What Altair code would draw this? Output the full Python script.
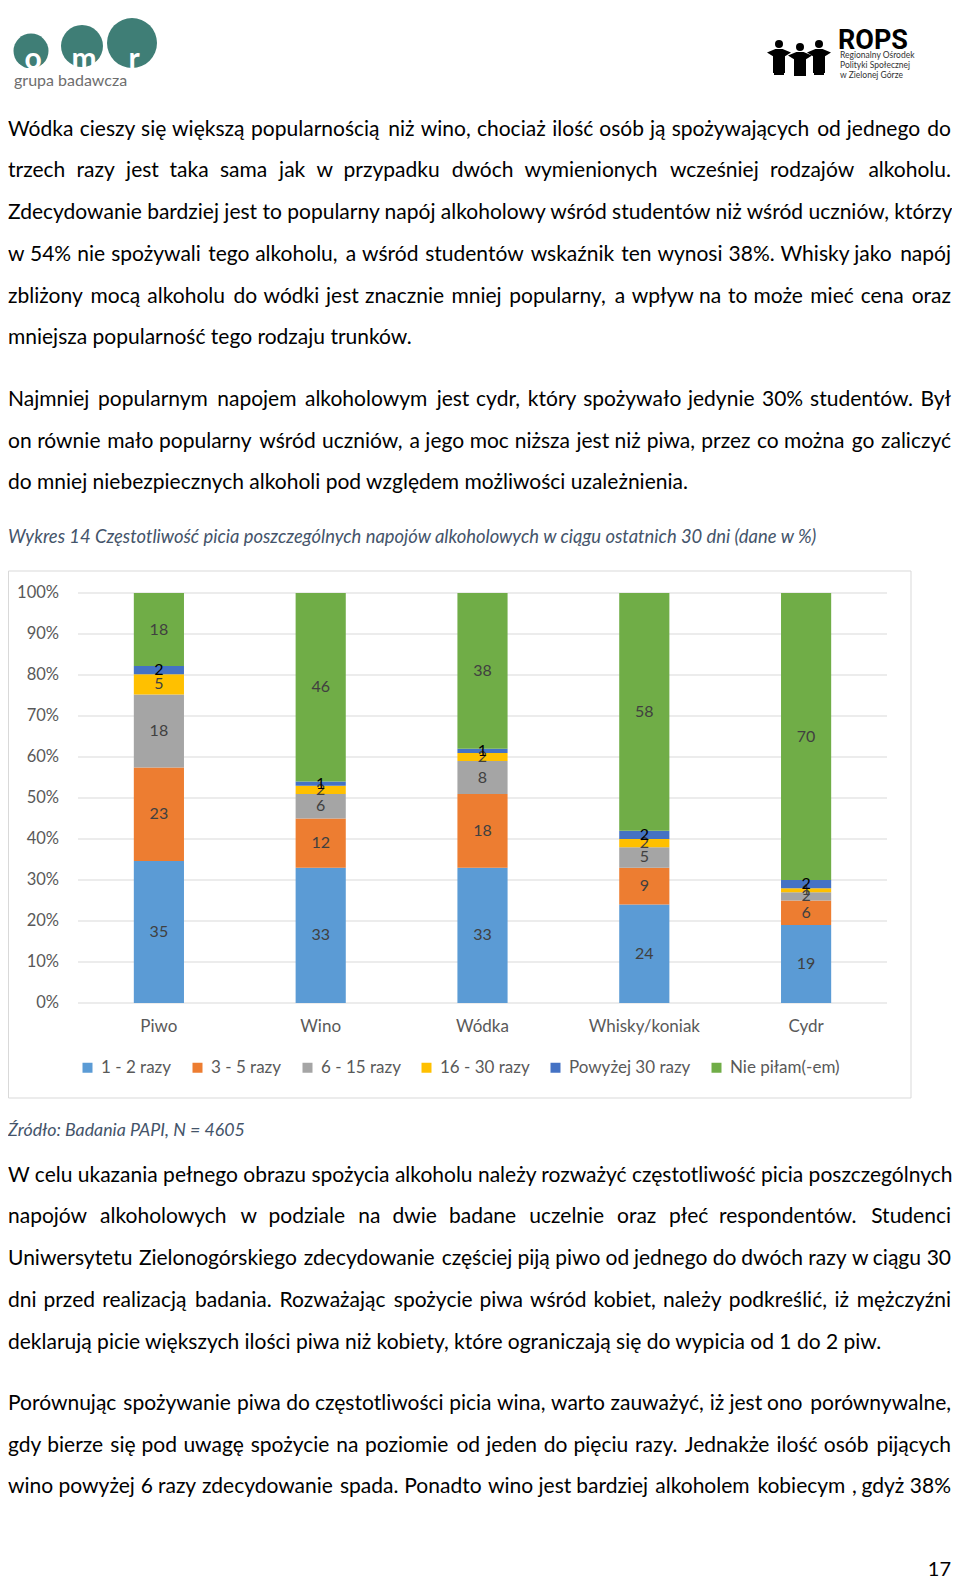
import altair as alt
import pandas as pd

FONT = "Lato"
W, H = 944, 1572

# ---------------- data ----------------
drinks = ["Piwo", "Wino", "Wódka", "Whisky/koniak", "Cydr"]
freqs = ["1 - 2 razy", "3 - 5 razy", "6 - 15 razy", "16 - 30 razy", "Powyżej 30 razy", "Nie piłam(-em)"]
colors = ["#5B9BD5", "#ED7D31", "#A5A5A5", "#FFC000", "#4472C4", "#70AD47"]
v_1_2 = [35, 33, 33, 24, 19]
v_3_5 = [23, 12, 18, 9, 6]
v_6_15 = [18, 6, 8, 5, 2]
v_16_30 = [5, 2, 2, 2, 1]
v_30plus = [2, 1, 1, 2, 2]
v_none = [18, 46, 38, 58, 70]
tick_vals = [0, 0.1, 0.2, 0.3, 0.4, 0.5, 0.6, 0.7, 0.8, 0.9, 1.0]
tick_labels = ["0%", "10%", "20%", "30%", "40%", "50%", "60%", "70%", "80%", "90%", "100%"]

para1 = [
    "Wódka cieszy się większą popularnością niż wino, chociaż ilość osób ją spożywających od jednego do",
    "trzech razy jest taka sama jak w przypadku dwóch wymienionych wcześniej rodzajów alkoholu.",
    "Zdecydowanie bardziej jest to popularny napój alkoholowy wśród studentów niż wśród uczniów, którzy",
    "w 54% nie spożywali tego alkoholu, a wśród studentów wskaźnik ten wynosi 38%. Whisky jako napój",
    "zbliżony mocą alkoholu do wódki jest znacznie mniej popularny, a wpływ na to może mieć cena oraz",
    "mniejsza popularność tego rodzaju trunków.",
]
para2 = [
    "Najmniej popularnym napojem alkoholowym jest cydr, który spożywało jedynie 30% studentów. Był",
    "on równie mało popularny wśród uczniów, a jego moc niższa jest niż piwa, przez co można go zaliczyć",
    "do mniej niebezpiecznych alkoholi pod względem możliwości uzależnienia.",
]
caption = "Wykres 14 Częstotliwość picia poszczególnych napojów alkoholowych w ciągu ostatnich 30 dni (dane w %)"
source = "Źródło: Badania PAPI, N = 4605"
para3 = [
    "W celu ukazania pełnego obrazu spożycia alkoholu należy rozważyć częstotliwość picia poszczególnych",
    "napojów alkoholowych w podziale na dwie badane uczelnie oraz płeć respondentów. Studenci",
    "Uniwersytetu Zielonogórskiego zdecydowanie częściej piją piwo od jednego do dwóch razy w ciągu 30",
    "dni przed realizacją badania. Rozważając spożycie piwa wśród kobiet, należy podkreślić, iż mężczyźni",
    "deklarują picie większych ilości piwa niż kobiety, które ograniczają się do wypicia od 1 do 2 piw.",
]
para4 = [
    "Porównując spożywanie piwa do częstotliwości picia wina, warto zauważyć, iż jest ono porównywalne,",
    "gdy bierze się pod uwagę spożycie na poziomie od jeden do pięciu razy. Jednakże ilość osób pijących",
    "wino powyżej 6 razy zdecydowanie spada. Ponadto wino jest bardziej alkoholem kobiecym , gdyż 38%",
]
page_no = "17"
logo1_letters = ["o", "m", "r"]
logo1_text = "grupa badawcza"
logo2_title = "ROPS"
logo2_lines = ["Regionalny Ośrodek", "Polityki Społecznej", "w Zielonej Górze"]

series = [v_1_2, v_3_5, v_6_15, v_16_30, v_30plus, v_none]
rows = []
for j, f in enumerate(freqs):
    for i, d in enumerate(drinks):
        rows.append({"drink": d, "freq": f, "order": j, "value": series[j][i]})
df = pd.DataFrame(rows)
ticks_df = pd.DataFrame({"t": tick_vals, "lab": tick_labels})

# ---------------- layout helpers ----------------
# measured natural (unjustified) line widths of the body font, per line; None = last line (not justified)
nat1 = [924.7, 864.9, 943.9, 923.7, 912.5, None]
nat2 = [915.6, 927.7, None]
nat3 = [943.9, 860.9, 939.9, 916.6, None]
nat4 = [935.8, 919.6, 933.8]

CW = {' ': 0.193, 'a': 0.507, 'b': 0.56, 'c': 0.46, 'd': 0.56, 'e': 0.52, 'f': 0.32, 'g': 0.50,
      'h': 0.56, 'i': 0.245, 'j': 0.245, 'k': 0.50, 'l': 0.245, 'm': 0.84, 'n': 0.56, 'o': 0.56,
      'p': 0.56, 'q': 0.56, 'r': 0.37, 's': 0.42, 't': 0.35, 'u': 0.56, 'v': 0.50, 'w': 0.77,
      'x': 0.48, 'y': 0.50, 'z': 0.45, 'ą': 0.507, 'ę': 0.52, 'ć': 0.46, 'ł': 0.26, 'ń': 0.56,
      'ó': 0.56, 'ś': 0.42, 'ź': 0.45, 'ż': 0.45, 'W': 0.95, 'Z': 0.6, 'N': 0.74, 'P': 0.58,
      'S': 0.52, 'U': 0.72, 'R': 0.6, 'J': 0.38, '.': 0.22, ',': 0.22, '%': 0.78, '(': 0.3,
      ')': 0.3, '-': 0.35}


def cw(c):
    if c in CW:
        return CW[c]
    if c.isdigit():
        return 0.58
    return 0.65


def est(s):
    return sum(cw(c) for c in s)


# ---------------- scales ----------------
xscale = alt.Scale(domain=drinks, range=[70, 879], paddingInner=0.69, paddingOuter=0.345)
yscale = alt.Scale(domain=[0, 1], range=[995, 585], nice=False, zero=False)

layers = []


def txt(s, x, y, size, color="#000000", italic=False, weight="normal", align="left", font=FONT, baseline="alphabetic"):
    return alt.Chart(pd.DataFrame({"s": [s]})).mark_text(
        align=align, baseline=baseline, font=font, fontSize=size,
        fontStyle="italic" if italic else "normal", fontWeight=weight, color=color
    ).encode(x=alt.value(x), y=alt.value(y), text="s:N")


BODY = 21
LH = 41.7
TARGET = 943


def line_layers(line, y, nat):
    words = line.split(" ")
    if nat is None or nat >= TARGET - 3 or len(words) < 2:
        return [txt(line, 0, y, BODY)]
    starts, cum = [], 0.0
    for w_ in words:
        starts.append(cum)
        cum += est(w_) + cw(" ")
    total = cum - cw(" ")
    sc = nat / total
    extra = (TARGET - nat) / (len(words) - 1)
    out = []
    for i, w_ in enumerate(words):
        if i == len(words) - 1:
            out.append(txt(w_, TARGET, y, BODY, align="right"))
        else:
            out.append(txt(w_, starts[i] * sc + i * extra, y, BODY))
    return out


# chart frame
layers.append(
    alt.Chart(pd.DataFrame({"a": [0]})).mark_rect(fillOpacity=0, stroke="#D9D9D9", strokeWidth=1).encode(
        x=alt.value(0.5), x2=alt.value(903), y=alt.value(563), y2=alt.value(1090)
    )
)

# gridlines and tick labels
layers.append(
    alt.Chart(ticks_df).mark_rule(color="#D9D9D9", strokeWidth=1).encode(
        y=alt.Y("t:Q", scale=yscale, axis=None), x=alt.value(70), x2=alt.value(879)
    )
)
layers.append(
    alt.Chart(ticks_df).mark_text(align="right", baseline="middle", font=FONT, fontSize=16.5, color="#595959").encode(
        y=alt.Y("t:Q", scale=yscale, axis=None), x=alt.value(51), text="lab:N"
    )
)

base = alt.Chart(df).transform_stack(
    stack="value", as_=["y0", "y1"], groupby=["drink"],
    sort=[alt.SortField("order", "ascending")], offset="normalize"
).transform_calculate(mid="(datum.y0 + datum.y1) / 2")

layers.append(
    base.mark_bar().encode(
        x=alt.X("drink:N", scale=xscale, axis=None),
        y=alt.Y("y0:Q", scale=yscale, axis=None),
        y2="y1:Q",
        color=alt.Color(
            "freq:N",
            scale=alt.Scale(domain=freqs, range=colors),
            legend=alt.Legend(
                title=None, orient="none", legendX=71, legendY=1051, direction="horizontal",
                symbolType="square", symbolSize=100, symbolStrokeWidth=0,
                labelFont=FONT, labelFontSize=17, labelColor="#595959",
                columnPadding=17, labelOffset=5,
            ),
        ),
    )
)
layers.append(
    base.mark_text(font=FONT, fontSize=16, baseline="middle").encode(
        x=alt.X("drink:N", scale=xscale, axis=None),
        y=alt.Y("mid:Q", scale=yscale, axis=None),
        text="value:Q",
        color=alt.condition(alt.datum.freq == "Powyżej 30 razy", alt.value("#000000"), alt.value("#404040")),
    )
)
layers.append(
    alt.Chart(pd.DataFrame({"drink": drinks})).mark_text(font=FONT, fontSize=17, baseline="middle", color="#595959").encode(
        x=alt.X("drink:N", scale=xscale, axis=None), y=alt.value(1019), text="drink:N"
    )
)

# ---------------- body text ----------------
for k, s in enumerate(para1):
    layers += line_layers(s, 127.7 + LH * k, nat1[k])
for k, s in enumerate(para2):
    layers += line_layers(s, 398 + LH * k, nat2[k])
layers.append(txt(caption, 0, 535, 18.4, color="#44546A", italic=True))
layers.append(txt(source, 0, 1128, 17.8, color="#44546A", italic=True))
for k, s in enumerate(para3):
    layers += line_layers(s, 1173.7 + LH * k, nat3[k])
for k, s in enumerate(para4):
    layers += line_layers(s, 1402 + LH * k, nat4[k])
layers.append(txt(page_no, 943, 1568, 20, align="right"))

# ---------------- logos ----------------
TEAL = "#3F7E76"
logo_c = pd.DataFrame({"cx": [23, 74, 124], "cy": [43, 38, 35], "d": [35, 42, 50], "l": logo1_letters})
for _, r in logo_c.iterrows():
    layers.append(
        alt.Chart(pd.DataFrame({"a": [0]})).mark_point(shape="circle", filled=True, opacity=1, color=TEAL, size=r["d"] ** 2, strokeWidth=0).encode(
            x=alt.value(r["cx"]), y=alt.value(r["cy"])
        )
    )
layers.append(
    alt.Chart(pd.DataFrame({"a": [0]})).mark_rect(color="white").encode(
        x=alt.value(0), x2=alt.value(152), y=alt.value(60), y2=alt.value(69)
    )
)
for _, r in logo_c.iterrows():
    layers.append(txt(r["l"], r["cx"] + 2, 61, 30, color="white", weight="bold", align="center"))
layers.append(txt(logo1_text, 6, 78, 16, color="#6E6E6E"))

# ROPS logo
layers.append(txt(logo2_title, 830, 41, 27, weight="bold", font="Roboto"))
for k, s in enumerate(logo2_lines):
    layers.append(txt(s, 832, 50 + 10 * k, 8.5, color="#333333"))
heads = pd.DataFrame({"x": [771, 792, 811], "y": [36, 39, 36]})
for _, r in heads.iterrows():
    layers.append(
        alt.Chart(pd.DataFrame({"a": [0]})).mark_point(shape="circle", filled=True, opacity=1, color="black", size=64, strokeWidth=0).encode(
            x=alt.value(r["x"]), y=alt.value(r["y"])
        )
    )
    layers.append(
        alt.Chart(pd.DataFrame({"a": [0]})).mark_point(
            shape="M-1,-0.7 L-0.3,-1 L0.3,-1 L1,-0.7 L0.5,-0.4 L0.5,1 L-0.5,1 L-0.5,-0.4 Z",
            filled=True, opacity=1, color="black", size=576, strokeWidth=0
        ).encode(x=alt.value(r["x"]), y=alt.value(r["y"] + 17))
    )
    layers.append(
        alt.Chart(pd.DataFrame({"a": [0]})).mark_rule(color="black", strokeWidth=2).encode(
            x=alt.value(r["x"] - 5), x2=alt.value(r["x"] + 5), y=alt.value(66)
        )
    )

chart = alt.layer(*layers).properties(
    width=W, height=H, padding=0, autosize=alt.AutoSizeParams(type="none")
).configure_view(strokeWidth=0)

chart.save("out.html", embed_options={"renderer": "svg", "actions": False})
